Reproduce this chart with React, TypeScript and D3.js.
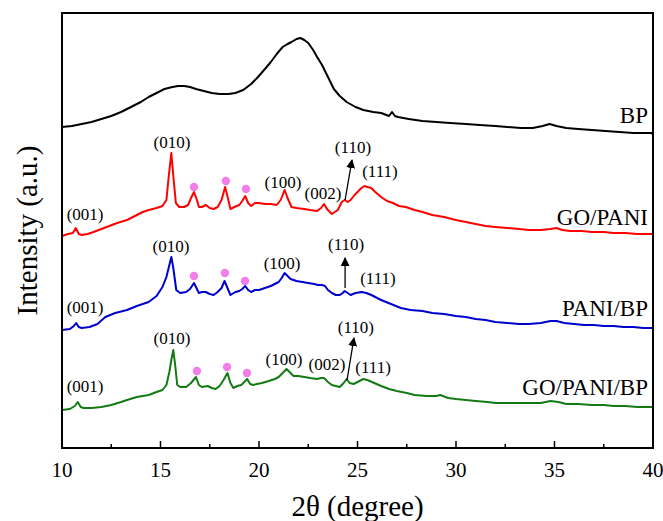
import React from "react";
import * as d3 from "d3";

const W = 663;
const H = 521;
const margin = { top: 13, right: 10, bottom: 73, left: 62 };

// x ticks (2θ, degree)
const majorTicks = [10, 15, 20, 25, 30, 35, 40];
const minorTicks = [12.5, 17.5, 22.5, 27.5, 32.5, 37.5];

// XRD patterns, [2θ, intensity (a.u., stacked with offset)]
const bpData: [number, number][] = [
  [10.0, 321], [10.5, 322], [11.0, 324], [11.5, 326], [12.0, 329], [12.5, 332], [13.0, 336],
  [13.5, 341], [14.0, 346], [14.4, 351], [14.8, 355], [15.2, 359], [15.6, 361], [15.9, 362],
  [16.2, 362], [16.5, 361], [16.8, 359], [17.2, 357], [17.6, 355], [18.0, 354], [18.45, 354],
  [18.8, 355], [19.2, 358], [19.6, 364], [19.95, 371], [20.3, 379], [20.6, 386], [20.9, 394],
  [21.2, 401], [21.45, 404], [21.65, 406], [21.9, 409], [22.1, 410], [22.3, 408], [22.5, 405],
  [22.75, 398], [22.95, 391], [23.2, 383], [23.4, 375], [23.6, 367], [23.8, 359], [24.1, 352],
  [24.45, 346], [24.9, 341], [25.3, 338], [25.8, 336], [26.2, 335], [26.6, 332], [26.75, 336],
  [26.9, 332], [27.05, 331], [27.6, 329], [28.3, 327], [29.0, 326], [29.7, 325], [30.5, 324],
  [31.2, 323], [32.0, 322], [32.6, 321], [33.3, 320], [33.9, 320], [34.4, 322], [34.75, 324],
  [35.1, 322], [35.6, 320], [36.2, 319], [36.9, 318], [37.6, 317], [38.3, 316], [39.0, 315],
  [39.9, 315], [40.0, 314],
];

const goPaniData: [number, number][] = [
  [10.0, 212], [10.3, 214], [10.55, 215], [10.7, 220], [10.85, 214], [11.0, 213], [11.3, 214],
  [11.6, 216], [12.0, 219], [12.4, 222], [12.8, 225], [13.3, 228], [13.7, 232], [14.1, 236],
  [14.4, 238], [14.8, 240], [15.1, 242], [15.3, 248], [15.42, 272], [15.55, 295], [15.65, 272],
  [15.78, 245], [15.95, 241], [16.2, 241], [16.4, 243], [16.55, 250], [16.7, 256], [16.85, 248],
  [16.95, 241], [17.1, 241], [17.3, 243], [17.5, 240], [17.7, 239], [17.9, 241], [18.1, 248],
  [18.28, 261], [18.42, 250], [18.55, 239], [18.75, 241], [19.0, 243], [19.15, 247], [19.3, 252],
  [19.45, 245], [19.6, 242], [19.8, 245], [20.0, 245], [20.3, 244], [20.6, 244], [20.9, 243],
  [21.1, 248], [21.3, 258], [21.45, 250], [21.65, 241], [21.9, 240], [22.3, 239], [22.6, 238],
  [22.95, 237], [23.15, 240], [23.3, 244], [23.45, 239], [23.7, 234], [23.85, 236], [24.0, 238],
  [24.2, 246], [24.35, 248], [24.5, 246], [24.65, 248], [24.85, 253], [25.0, 256], [25.2, 260],
  [25.35, 262], [25.5, 261], [25.7, 260], [25.9, 256], [26.2, 251], [26.5, 247], [26.8, 245],
  [27.1, 242], [27.45, 241], [27.9, 238], [28.3, 236], [28.8, 233], [29.4, 231], [30.0, 228],
  [30.5, 226], [31.0, 224], [31.5, 222], [32.0, 221], [32.6, 220], [33.2, 219], [33.7, 218],
  [34.3, 218], [34.8, 219], [35.1, 220], [35.4, 218], [35.8, 217], [36.4, 217], [36.9, 216],
  [37.5, 216], [38.0, 215], [38.6, 215], [39.2, 214], [40.0, 214],
];

const paniBpData: [number, number][] = [
  [10.0, 118], [10.4, 119], [10.6, 122], [10.72, 125], [10.85, 121], [11.0, 120], [11.4, 121],
  [11.8, 124], [12.2, 131], [12.7, 135], [13.3, 138], [13.8, 142], [14.4, 146], [14.8, 152],
  [15.1, 161], [15.3, 171], [15.45, 183], [15.55, 191], [15.65, 180], [15.8, 158], [16.0, 155],
  [16.3, 156], [16.5, 159], [16.7, 165], [16.85, 159], [16.95, 155], [17.1, 156], [17.3, 156],
  [17.5, 154], [17.7, 153], [17.9, 156], [18.1, 160], [18.25, 167], [18.4, 160], [18.55, 153],
  [18.8, 156], [19.0, 157], [19.15, 159], [19.3, 162], [19.45, 158], [19.6, 156], [19.8, 158],
  [20.0, 158], [20.3, 160], [20.6, 162], [20.8, 164], [21.0, 166], [21.15, 170], [21.3, 175],
  [21.45, 172], [21.6, 169], [21.9, 167], [22.2, 166], [22.5, 165], [22.8, 164], [23.0, 163],
  [23.2, 163], [23.35, 162], [23.5, 158], [23.7, 155], [23.9, 153], [24.1, 153], [24.25, 155],
  [24.35, 157], [24.5, 155], [24.65, 153], [24.9, 155], [25.2, 156], [25.45, 155], [25.7, 153],
  [26.0, 150], [26.2, 148], [26.7, 144], [27.2, 140], [27.7, 138], [28.3, 137], [28.8, 135],
  [29.4, 134], [30.0, 132], [30.5, 131], [31.0, 129], [31.5, 128], [32.0, 126], [32.6, 125],
  [33.2, 124], [33.7, 124], [34.3, 125], [34.8, 127], [35.1, 127], [35.5, 125], [36.0, 124],
  [36.5, 123], [37.0, 123], [37.5, 122], [38.0, 122], [38.5, 121], [39.0, 121], [39.5, 120],
  [40.0, 120],
];

const goPaniBpData: [number, number][] = [
  [10.0, 38], [10.4, 39], [10.65, 42], [10.8, 46], [10.95, 41], [11.1, 40], [11.5, 40],
  [12.0, 41], [12.5, 43], [13.0, 46], [13.3, 48], [13.8, 51], [14.4, 53], [14.8, 56],
  [15.1, 58], [15.3, 63], [15.45, 76], [15.55, 88], [15.65, 98], [15.75, 82], [15.85, 63],
  [16.0, 61], [16.3, 61], [16.55, 65], [16.8, 71], [16.95, 63], [17.1, 61], [17.4, 62],
  [17.6, 60], [17.8, 59], [18.0, 62], [18.2, 68], [18.4, 75], [18.55, 65], [18.7, 60],
  [18.9, 62], [19.1, 63], [19.25, 66], [19.4, 69], [19.55, 64], [19.7, 63], [19.9, 64],
  [20.15, 65], [20.5, 67], [20.8, 69], [21.0, 71], [21.2, 75], [21.4, 79], [21.55, 76],
  [21.75, 72], [22.0, 72], [22.3, 71], [22.6, 70], [22.95, 69], [23.15, 70], [23.3, 70],
  [23.5, 66], [23.7, 63], [23.9, 62], [24.1, 61], [24.3, 65], [24.45, 69], [24.6, 65],
  [24.8, 64], [25.0, 66], [25.3, 69], [25.5, 68], [25.85, 65], [26.2, 62], [26.6, 59],
  [27.0, 57], [27.5, 55], [27.9, 53], [28.5, 52], [29.0, 52], [29.2, 53], [29.6, 50],
  [30.0, 49], [30.5, 48], [31.0, 47], [31.6, 46], [32.0, 45], [32.6, 45], [33.2, 45],
  [33.8, 45], [34.3, 45], [34.8, 47], [35.2, 46], [35.6, 44], [36.2, 44], [36.9, 43],
  [37.5, 43], [38.0, 42], [38.6, 42], [39.2, 41], [40.0, 41],
];

const seriesNames = ["BP", "GO/PANI", "PANI/BP", "GO/PANI/BP"];
const seriesColors = ["#000000", "#ff0000", "#0000cd", "#147a14"];
const seriesData = [bpData, goPaniData, paniBpData, goPaniBpData];
// where the sample name sits (intensity units)
const seriesLabelY = [333, 231, 140, 61];

// peak labels: [text, 2θ, intensity]
const peakLabels: [string, number, number][] = [
  ["(001)", 11.17, 233], ["(010)", 15.58, 305], ["(100)", 21.22, 265], ["(002)", 23.25, 254],
  ["(110)", 24.77, 300], ["(111)", 26.14, 276],
  ["(001)", 11.17, 140], ["(010)", 15.53, 201], ["(100)", 21.17, 184], ["(110)", 24.42, 203],
  ["(111)", 26.04, 169],
  ["(001)", 11.17, 61], ["(010)", 15.58, 109], ["(100)", 21.27, 88], ["(002)", 23.45, 83],
  ["(110)", 24.92, 120], ["(111)", 25.79, 80],
];

// pink dots over the PANI peaks: [2θ, intensity]
const dots: [number, number][] = [
  [16.7, 261], [18.32, 267], [19.34, 259],
  [16.7, 172], [18.27, 175], [19.29, 167],
  [16.85, 77], [18.38, 81], [19.39, 75],
];

// (110) arrows: [x1, y1, x2, y2]
const arrows: [number, number, number, number][] = [
  [24.37, 248, 24.72, 288],
  [24.37, 160, 24.37, 190],
  [24.47, 68, 24.82, 110],
];

const FONT = "'Liberation Serif', 'Times New Roman', serif";

export default function App() {
  const x = d3.scaleLinear().domain([10, 40]).range([margin.left, W - margin.right]);
  const y = d3.scaleLinear().domain([0, 435]).range([H - margin.bottom, margin.top]);
  const line = d3
    .line<[number, number]>()
    .x((d) => x(d[0]))
    .y((d) => y(d[1]));

  const x0 = x(10);
  const x1 = x(40);
  const yb = y(0);
  const yt = y(435);

  return (
    <svg width={W} height={H} style={{ position: "absolute", left: 0, top: 0 }} fontFamily={FONT}>
      <defs>
        <marker id="ah" viewBox="0 0 10 10" refX="9" refY="5" markerWidth="9" markerHeight="9" orient="auto" markerUnits="userSpaceOnUse">
          <path d="M0,0 L10,5 L0,10 z" fill="#000" />
        </marker>
      </defs>
      <rect width={W} height={H} fill="#fff" />

      {seriesData.map((d, i) => (
        <path key={i} d={line(d) ?? ""} fill="none" stroke={seriesColors[i]} strokeWidth={2} strokeLinejoin="round" />
      ))}

      {seriesNames.map((n, i) => (
        <text key={n} x={x1 - 5} y={y(seriesLabelY[i])} dy="0.35em" textAnchor="end" fontSize={23}>
          {n}
        </text>
      ))}

      {peakLabels.map(([t, a, b], i) => (
        <text key={i} x={x(a)} y={y(b)} dy="0.3em" textAnchor="middle" fontSize={17}>
          {t}
        </text>
      ))}

      {dots.map(([a, b], i) => (
        <circle key={i} cx={x(a)} cy={y(b)} r={4.2} fill="#f47ee9" />
      ))}

      {arrows.map(([a1, b1, a2, b2], i) => (
        <line key={i} x1={x(a1)} y1={y(b1)} x2={x(a2)} y2={y(b2)} stroke="#000" strokeWidth={1.3} markerEnd="url(#ah)" />
      ))}

      {/* frame */}
      <rect x={x0} y={yt} width={x1 - x0} height={yb - yt} fill="none" stroke="#000" strokeWidth={2} />

      {majorTicks.map((t) => (
        <g key={t}>
          <line x1={x(t)} x2={x(t)} y1={yb} y2={yb - 7} stroke="#000" strokeWidth={1.5} />
          <text x={x(t)} y={yb + 29} textAnchor="middle" fontSize={21}>
            {t}
          </text>
        </g>
      ))}
      {minorTicks.map((t) => (
        <line key={t} x1={x(t)} x2={x(t)} y1={yb} y2={yb - 4} stroke="#000" strokeWidth={1.5} />
      ))}

      <text x={(x0 + x1) / 2} y={516} textAnchor="middle" fontSize={29}>
        2θ (degree)
      </text>
      <text transform={`translate(37, ${(yt + yb) / 2}) rotate(-90)`} textAnchor="middle" fontSize={29}>
        Intensity (a.u.)
      </text>
    </svg>
  );
}
